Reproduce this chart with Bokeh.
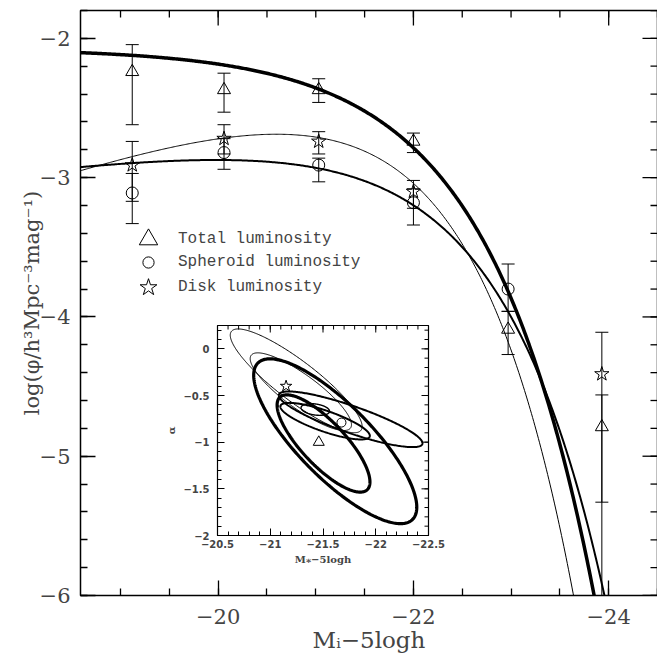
import numpy as np
from bokeh.plotting import figure
from bokeh.layouts import column
from bokeh.models import (Range1d, FixedTicker, Legend, LegendItem, CustomJSTickFormatter)
from bokeh.embed import file_html
from bokeh.resources import INLINE

# ---------------- data ----------------
# Total luminosity (triangles)
mag_total = [-19.12, -20.06, -21.03, -22.00, -22.97, -23.93]
logphi_total = [-2.24, -2.37, -2.37, -2.74, -4.09, -4.79]
err_hi_total = [-2.045, -2.25, -2.29, -2.68, -3.96, -4.56]
err_lo_total = [-2.62, -2.53, -2.46, -2.82, -4.27, -5.33]

# Spheroid luminosity (circles)
mag_sph = [-19.12, -20.06, -21.03, -22.00, -22.97]
logphi_sph = [-3.11, -2.82, -2.91, -3.18, -3.80]
err_hi_sph = [-2.97, -2.72, -2.86, -3.08, -3.62]
err_lo_sph = [-3.33, -2.94, -3.03, -3.34, -3.96]

# Disk luminosity (stars)
mag_disk = [-19.12, -20.06, -21.03, -22.00, -23.93]
logphi_disk = [-2.91, -2.72, -2.74, -3.10, -4.41]
err_hi_disk = [-2.74, -2.62, -2.67, -3.02, -4.11]
err_lo_disk = [-3.17, -2.83, -2.83, -3.22, -7.0]

# Schechter fits (total, spheroid, disk) -- best-fit points shown in the inset
fit_labels = ["Total luminosity", "Spheroid luminosity", "Disk luminosity"]
fit_mstar = [-21.46, -21.675, -21.15]
fit_alpha = [-1.00, -0.79, -0.40]
fit_logphistar = [-2.036, -2.604, -2.259]
fit_width = [3.5, 2.0, 1.0]

# Inset confidence contours (M*, alpha): centre, half-extent, correlation
cont_cx = [-21.616, -21.505, -21.762, -21.520, -21.427, -21.246, -21.290]
cont_cy = [-0.990, -1.014, -0.755, -0.775, -0.650, -0.343, -0.459]
cont_dx = [0.773, 0.440, 0.681, 0.424, 0.135, 0.625, 0.480]
cont_dy = [0.883, 0.521, 0.298, 0.196, 0.0625, 0.556, 0.416]
cont_rho = [0.80, 0.79, 0.86, 0.80, 0.30, 0.88, 0.85]
cont_lw = [3.2, 3.2, 2.0, 2.0, 1.4, 1.0, 1.0]

# ticks
x_major = [-20, -22, -24]
y_major = [-6, -5, -4, -3, -2]
ix_major = [-20.5, -21, -21.5, -22, -22.5]
iy_major = [-2, -1.5, -1, -0.5, 0]
x_minor = [round(v, 2) for v in np.arange(-19.0, -24.51, -0.5)]
y_minor = [round(v, 2) for v in np.arange(-6.0, -1.79, 0.2)]
ix_minor = [round(v, 2) for v in np.arange(-20.5, -22.51, -0.1)]
iy_minor = [round(v, 2) for v in np.arange(-2.0, 0.26, 0.1)]

minus_fmt = "return (tick < 0 ? '\\u2212' : '') + Math.abs(tick).toString();"


def style_axes(fig, xmaj, xmin, ymaj, ymin, maj_len, min_len, lw):
    fig.xaxis.ticker = FixedTicker(ticks=xmaj, minor_ticks=xmin)
    fig.yaxis.ticker = FixedTicker(ticks=ymaj, minor_ticks=ymin)
    for ax in fig.xaxis + fig.yaxis:
        ax.axis_line_color = None
        ax.major_tick_in = maj_len
        ax.major_tick_out = 0
        ax.minor_tick_in = min_len
        ax.minor_tick_out = 0
        ax.major_tick_line_width = lw
        ax.minor_tick_line_width = lw
        ax.formatter = CustomJSTickFormatter(code=minus_fmt)
    # mirrored ticks on the top and right edges (half of each dash is clipped by the frame)
    xr, yr = fig.x_range, fig.y_range
    for ticks, size in [(xmaj, 2 * maj_len), (xmin, 2 * min_len)]:
        fig.scatter(x=ticks, y=[yr.end] * len(ticks), marker="dash", angle=np.pi / 2,
                    size=size, line_color="black", line_width=lw)
    for ticks, size in [(ymaj, 2 * maj_len), (ymin, 2 * min_len)]:
        fig.scatter(x=[xr.end] * len(ticks), y=ticks, marker="dash",
                    size=size, line_color="black", line_width=lw)


# ---------------- main panel ----------------
p = figure(width=677, height=655,
           x_range=Range1d(-18.59, -24.50), y_range=Range1d(-6, -1.8),
           output_backend="svg", toolbar_location=None,
           min_border_left=72, min_border_right=0, min_border_top=10, min_border_bottom=59)
p.grid.visible = False
p.outline_line_color = "black"
p.outline_line_width = 1.5
style_axes(p, x_major, x_minor, y_major, y_minor, 15, 7, 1.3)
for ax in p.xaxis + p.yaxis:
    ax.major_label_text_font = "DejaVu Serif"
    ax.major_label_text_font_size = "21px"
p.xaxis.major_label_standoff = 13
p.yaxis.major_label_standoff = 10
p.yaxis.axis_label = "log(\u03c6/h\u00b3Mpc\u207b\u00b3mag\u207b\u00b9)"
p.xaxis.axis_label = "M\u1d62\u22125logh"
for ax in p.xaxis + p.yaxis:
    ax.axis_label_text_font = "DejaVu Serif"
    ax.axis_label_text_font_style = "normal"
    ax.axis_label_text_font_size = "21px"
p.yaxis.axis_label_standoff = -7
p.xaxis.axis_label_standoff = 0
p.xaxis.axis_label_text_font_size = "23px"

# Schechter curves
mgrid = np.linspace(-18.59, -24.5, 500)
for ms, al, lp, lw in zip(fit_mstar, fit_alpha, fit_logphistar, fit_width):
    dm = ms - mgrid
    logphi = (np.log10(0.4 * np.log(10)) + lp + 0.4 * (al + 1) * dm
              - 10 ** (0.4 * dm) / np.log(10))
    p.line(mgrid, logphi, line_color="black", line_width=lw)

# error bars + markers
renderers = []
for mags, vals, hi, lo, mk, sz in [
        (mag_total, logphi_total, err_hi_total, err_lo_total, "triangle", 13),
        (mag_sph, logphi_sph, err_hi_sph, err_lo_sph, "circle", 12),
        (mag_disk, logphi_disk, err_hi_disk, err_lo_disk, "star", 15)]:
    p.segment(x0=mags, y0=lo, x1=mags, y1=hi, line_color="black", line_width=1)
    p.scatter(x=mags + mags, y=lo + hi, marker="dash", size=13, line_color="black", line_width=1)
    r = p.scatter(x=mags, y=vals, marker=mk, size=sz, fill_color="white", fill_alpha=0,
                  line_color="black", line_width=1)
    renderers.append(r)

# legend: one entry per row so each symbol can have its own size
# (offsets relative to the plot frame, whose left edge lies at about x = 80)
legend_rows = [  # (glyph box, x offset, y offset, label standoff)
    (46, 45, 333, 7),
    (28, 54, 319, 16),
    (44, 46, 286, 8),
]
for lab, r, (g, vx, vy, st) in zip(fit_labels, renderers, legend_rows):
    lg = Legend(items=[LegendItem(label=lab, renderers=[r])],
                location=(vx, vy), padding=0, margin=0, spacing=0,
                label_height=20, glyph_height=g, glyph_width=g, label_standoff=st,
                border_line_color=None, background_fill_alpha=0,
                label_text_font="Liberation Mono", label_text_font_size="16px")
    p.add_layout(lg)

# ---------------- inset ----------------
ins = figure(frame_width=211, frame_height=210,
             x_range=Range1d(-20.5, -22.5), y_range=Range1d(-2, 0.25),
             output_backend="svg", toolbar_location=None,
             min_border_left=80, min_border_right=20, min_border_top=8, min_border_bottom=35)
ins.grid.visible = False
ins.outline_line_color = "black"
ins.outline_line_width = 1.2
ins.border_fill_alpha = 0
style_axes(ins, ix_major, ix_minor, iy_major, iy_minor, 7, 4, 1.0)
for ax in ins.xaxis + ins.yaxis:
    ax.major_label_text_font = "DejaVu Sans"
    ax.major_label_text_font_style = "bold"
    ax.major_label_text_font_size = "10px"
ins.xaxis.major_label_standoff = 4
ins.yaxis.major_label_standoff = 8
ins.xaxis.axis_label = "M\u204e\u22125logh"
ins.yaxis.axis_label = "\u03b1"
for ax in ins.xaxis + ins.yaxis:
    ax.axis_label_text_font = "DejaVu Serif"
    ax.axis_label_text_font_style = "bold"
    ax.axis_label_text_font_size = "10px"
    ax.axis_label_standoff = 3

t = np.linspace(0, 2 * np.pi, 300)
for cx, cy, dx, dy, rho, lw in zip(cont_cx, cont_cy, cont_dx, cont_dy, cont_rho, cont_lw):
    ex = cx + dx * np.cos(t)
    ey = cy + dy * (rho * np.cos(t) + np.sqrt(1 - rho ** 2) * np.sin(t))
    ins.line(ex, ey, line_color="black", line_width=lw)

for i, mk, sz in [(0, "triangle", 11), (1, "circle", 9), (2, "star", 12)]:
    ins.scatter(x=[fit_mstar[i]], y=[fit_alpha[i]], marker=mk, size=sz,
                fill_color="white", fill_alpha=0, line_color="black", line_width=1)

ins.margin = (-338, 0, 0, 137)

page = column(p, ins)
open("out.html", "w").write(file_html(page, INLINE))
